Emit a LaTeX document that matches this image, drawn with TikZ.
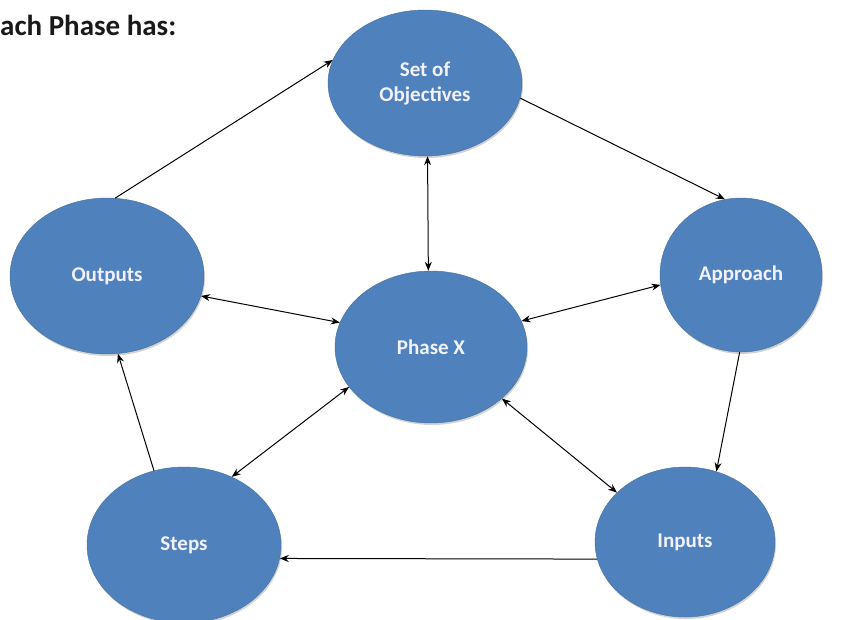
\documentclass[tikz,border=0pt]{standalone}
\usepackage{fontspec}
\setmainfont{Carlito}
\usetikzlibrary{shapes,positioning,arrows.meta,shadows}
\tikzset{>={Stealth[length=9pt,width=7pt]}}
\definecolor{ovalFill}{HTML}{4F81BD}
\definecolor{ovalEdge}{HTML}{41719C}
\colorlet{penColor}{black}
\tikzset{
  oval/.style={ellipse, fill=ovalFill, draw=ovalEdge, thin, inner sep=0pt,
    text=white!95!blue, align=center, font=\bfseries\fontsize{21}{25}\selectfont,
    drop shadow={shadow xshift=1pt, shadow yshift=-2pt, fill=black!35, opacity=.5}},
  link/.style={penColor, line width=1pt}
}

\begin{document}
\begin{tikzpicture}[x=1pt, y=-1pt]
		\useasboundingbox (0,0) rectangle (845,619);
		\node[anchor=base west, inner sep=0pt, font=\bfseries\fontsize{29}{32}\selectfont, text=black!90] (title) at (0,35) {ach Phase has:};
		% the five items round the phase
		\node[oval, minimum width=194pt, minimum height=146pt] (objectives) at (425,83) {Set of\\Objectives};
		\node[oval, minimum width=194pt, minimum height=156pt] (outputs) at (107,276) {Outputs};
		\node[oval, minimum width=162pt, minimum height=154pt] (approach) at (741,275) {Approach};
		\node[oval, minimum width=192pt, minimum height=152pt] (phase) at (431,347) {Phase X};
		\node[oval, minimum width=194pt, minimum height=156pt] (steps) at (184,545) {Steps};
		\node[oval, minimum width=180pt, minimum height=150pt] (inputs) at (685,542) {Inputs};
		% cycle round the outside
		\draw[link, ->] (outputs.84) -- (objectives.166);
		\draw[link, ->] (objectives.351) -- (approach.102);
		\draw[link, ->] (approach.269) -- (inputs.66);
		\draw[link, ->] (inputs.191) -- (steps.352);
		\draw[link, ->] (steps.112) -- (outputs.278);
		% spokes to the centre
		\draw[link, <->] (objectives.272) -- (phase.92);
		\draw[link, <->] (outputs.348) -- (phase.165);
		\draw[link, <->] (approach.187) -- (phase.16);
		\draw[link, <->] (steps.55) -- (phase.206);
		\draw[link, <->] (inputs.144) -- (phase.324);
\end{tikzpicture}
\end{document}
